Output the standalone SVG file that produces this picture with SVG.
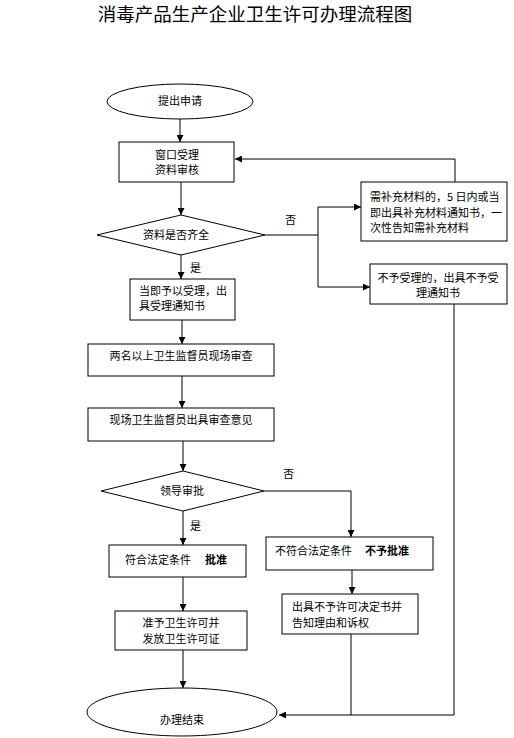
<svg xmlns="http://www.w3.org/2000/svg" width="514" height="738" viewBox="0 0 514 738">
<defs>
<style>
text{font-family:"Noto Sans CJK SC","Liberation Sans",sans-serif;font-size:11px;fill:#000}
.t{font-size:18.5px}
.c{text-anchor:middle}
.b{font-weight:bold}
.s{fill:#fff;stroke:#000;stroke-width:1}
.l{fill:none;stroke:#000;stroke-width:1}
</style>
<marker id="a" viewBox="0 0 8 8" refX="8" refY="4" markerWidth="7" markerHeight="7" markerUnits="userSpaceOnUse" orient="auto">
<path d="M0,0 L8,4 L0,8 Z" fill="#000"/>
</marker>
</defs>
<rect width="514" height="738" fill="#fff"/>
<text class="t c" x="255" y="21">消毒产品生产企业卫生许可办理流程图</text>

<g id="connectors">
<line class="l" x1="180" y1="119" x2="180" y2="142" marker-end="url(#a)"/>
<polyline class="l" points="455,182 455,159 235,159" marker-end="url(#a)"/>
<line class="l" x1="181" y1="182" x2="181" y2="215" marker-end="url(#a)"/>
<polyline class="l" points="265,235 318,235"/>
<polyline class="l" points="318,287 318,207 361,207" marker-end="url(#a)"/>
<line class="l" x1="318" y1="287" x2="370" y2="287" marker-end="url(#a)"/>
<line class="l" x1="181" y1="255" x2="181" y2="279" marker-end="url(#a)"/>
<line class="l" x1="182" y1="320" x2="182" y2="344" marker-end="url(#a)"/>
<line class="l" x1="182" y1="376" x2="182" y2="408" marker-end="url(#a)"/>
<line class="l" x1="183" y1="441" x2="183" y2="471" marker-end="url(#a)"/>
<polyline class="l" points="264,491 351,491 351,537" marker-end="url(#a)"/>
<line class="l" x1="183" y1="511" x2="183" y2="545" marker-end="url(#a)"/>
<line class="l" x1="352" y1="570" x2="352" y2="594" marker-end="url(#a)"/>
<line class="l" x1="183" y1="577" x2="183" y2="611" marker-end="url(#a)"/>
<line class="l" x1="183" y1="650" x2="183" y2="688" marker-end="url(#a)"/>
<polyline class="l" points="454,304 454,715 351,715"/>
<line class="l" x1="351" y1="634" x2="351" y2="715"/>
<line class="l" x1="351" y1="715" x2="279" y2="715" marker-end="url(#a)"/>
<text x="285" y="224">否</text>
<text x="190" y="272">是</text>
<text x="283" y="478">否</text>
<text x="190" y="530">是</text>
</g>

<g id="start">
<ellipse class="s" cx="180" cy="101.5" rx="73" ry="17.5"/>
<text class="c" x="180" y="105">提出申请</text>
</g>
<g id="window">
<rect class="s" x="119" y="142" width="115" height="40"/>
<text class="c" x="177" y="159">窗口受理</text>
<text class="c" x="177" y="174">资料审核</text>
</g>
<g id="check">
<polygon class="s" points="97,235 181,215 265,235 181,255"/>
<text class="c" x="176" y="239">资料是否齐全</text>
</g>
<g id="supplement">
<rect class="s" x="361" y="182" width="146" height="59"/>
<text x="370" y="201">需补充材料的，5 日内或当</text>
<text x="370" y="217">即出具补充材料通知书，一</text>
<text x="370" y="232">次性告知需补充材料</text>
</g>
<g id="reject">
<rect class="s" x="370" y="264" width="137" height="40"/>
<text class="c" x="438" y="282">不予受理的，出具不予受</text>
<text class="c" x="438" y="297">理通知书</text>
</g>
<g id="accept">
<rect class="s" x="130" y="279" width="105" height="41"/>
<text x="139" y="295">当即予以受理，出</text>
<text x="139" y="310">具受理通知书</text>
</g>
<g id="inspect">
<rect class="s" x="88" y="344" width="186" height="32"/>
<text class="c" x="181" y="360">两名以上卫生监督员现场审查</text>
</g>
<g id="opinion">
<rect class="s" x="88" y="408" width="186" height="33"/>
<text class="c" x="181" y="424">现场卫生监督员出具审查意见</text>
</g>
<g id="approve-check">
<polygon class="s" points="101,491 183,471 264,491 183,511"/>
<text class="c" x="182" y="495">领导审批</text>
</g>
<g id="approve">
<rect class="s" x="109" y="545" width="137" height="32"/>
<text x="125" y="564">符合法定条件</text>
<text class="b" x="205" y="564">批准</text>
</g>
<g id="deny">
<rect class="s" x="266" y="537" width="167" height="33"/>
<text x="275" y="555">不符合法定条件</text>
<text class="b" x="365" y="555">不予批准</text>
</g>
<g id="deny-notice">
<rect class="s" x="282" y="594" width="136" height="40"/>
<text x="292" y="611">出具不予许可决定书并</text>
<text x="292" y="627">告知理由和诉权</text>
</g>
<g id="grant">
<rect class="s" x="115" y="611" width="132" height="39"/>
<text class="c" x="181" y="627">准予卫生许可并</text>
<text class="c" x="181" y="643">发放卫生许可证</text>
</g>
<g id="end">
<ellipse class="s" cx="182" cy="712" rx="95" ry="24"/>
<text class="c" x="182" y="724">办理结束</text>
</g>
</svg>
